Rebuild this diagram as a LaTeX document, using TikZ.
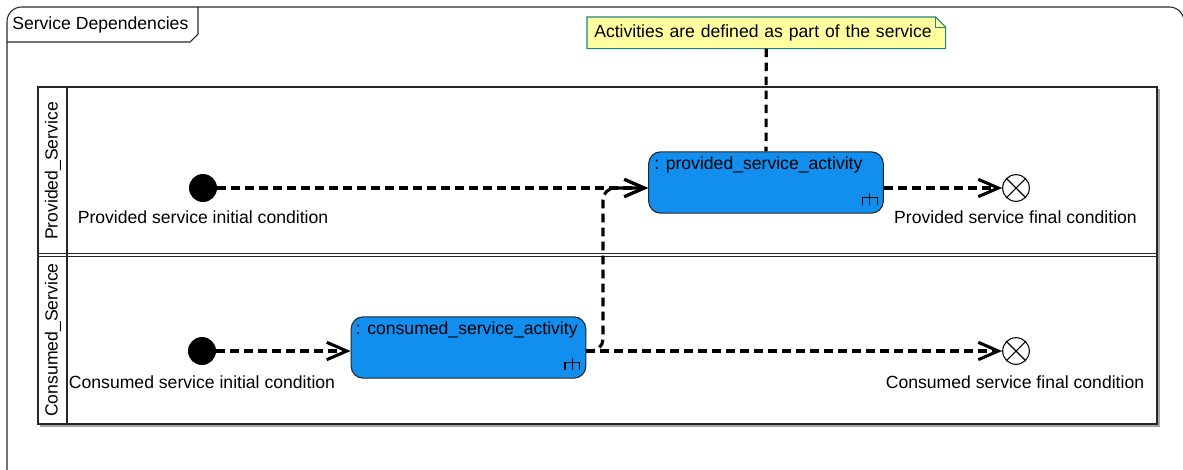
\documentclass[tikz,border=0pt]{standalone}
\usepackage{fontspec}
\setmainfont{Liberation Sans}
\usetikzlibrary{arrows.meta,calc}
\pgfdeclarelayer{background}
\pgfsetlayers{background,main}
\definecolor{actblue}{RGB}{17,142,238}
\definecolor{noteyellow}{RGB}{255,255,160}
\definecolor{noteborder}{RGB}{30,130,130}
\newcommand\forkicon[1]{%
  \draw[line width=0.9pt] ($(#1.south east)+(-10.5pt,6.75pt)$) -- ++(0,8.5pt);
  \draw[line width=0.9pt] ($(#1.south east)+(-16pt,6.75pt)$) -- ++(0,5.25pt) -- ++(11pt,0) -- ++(0,-5.25pt);
}
\begin{document}
\begin{tikzpicture}[x=0.75pt,y=-0.75pt,
  every node/.style={font=\fontsize{13.2}{15}\selectfont, inner sep=0pt},
  frameline/.style={draw=black!85, line width=0.8pt},
  initnode/.style={circle, fill=black, minimum size=21pt},
  finnode/.style={circle, draw=black, line width=0.8pt, minimum size=20pt, fill=white},
  actnode/.style={rectangle, rounded corners=9pt, draw=black!85, line width=0.8pt, fill=actblue, minimum width=176pt, minimum height=46pt},
  flow/.style={line width=2.3pt, dash pattern=on 6.5pt off 4pt, -{Straight Barb[length=15pt,width=13pt,line width=2.3pt]}},
  notelink/.style={line width=2.3pt, dash pattern=on 6.5pt off 4pt},
  lbl/.style={text=black},
]
\useasboundingbox (0,0) rectangle (1183,469);
\clip (0,0) rectangle (1183,469);

% outer frame
\draw[frameline, rounded corners=11pt] (7,475) -- (7,7) -- (1184,7) -- (1184,475);
\draw[frameline] (7,42) -- (190,42) -- (198,34) -- (198,7);
\node[anchor=west] (title) at (12,25) {Service Dependencies};

% swimlane table
\draw[black!35, line width=1pt] (1159,89) -- (1159,426) -- (40,426);
\draw[frameline] (38,87) rectangle (1157,424);
\draw[frameline] (67,87) -- (67,424);
\draw[frameline] (38,253.5) -- (1157,253.5);
\draw[frameline] (38,256.5) -- (1157,256.5);
\node[rotate=90] (lane1) at (53,171) {Provided\_Service};
\node[rotate=90] (lane2) at (53,340) {Consumed\_Service};

% note
\node[anchor=north west, minimum height=23.25pt, text width=258pt, inner xsep=5.25pt, align=left] (note) at (587,17) {Activities are defined as part of the service};
\begin{pgfonlayer}{background}
\draw[noteborder, fill=noteyellow, line width=0.8pt]
  (note.north west) -- ($(note.north east)+(-7.5pt,0)$) -- ($(note.north east)+(0,-7.5pt)$) -- (note.south east) -- (note.south west) -- cycle;
\draw[noteborder, line width=0.6pt] ($(note.north east)+(-7.5pt,0)$) -- ($(note.north east)+(-7.5pt,-7.5pt)$) -- ($(note.north east)+(0,-7.5pt)$);
\end{pgfonlayer}

% nodes
\node[initnode] (pinit) at (203,188) {};
\node[lbl] (pinitlbl) at (203,217) {Provided service initial condition};
\node[initnode] (cinit) at (202,351) {};
\node[lbl] (cinitlbl) at (202,382) {Consumed service initial condition};

\node[actnode, label={[anchor=north west, xshift=4.5pt, yshift=-4pt]north west:{: provided\_service\_activity}}] (pact) at (766,182.5) {};
\node[actnode, label={[anchor=north west, xshift=3.75pt, yshift=-4pt]north west:{: consumed\_service\_activity}}] (cact) at (468.5,347.5) {};
\forkicon{pact}
\forkicon{cact}

\node[finnode] (pfin) at (1016,188) {};
\draw[line width=0.8pt] (pfin.north east) -- (pfin.south west) (pfin.north west) -- (pfin.south east);
\node[lbl] (pfinlbl) at (1015.5,217) {Provided service final condition};
\node[finnode] (cfin) at (1016,351) {};
\draw[line width=0.8pt] (cfin.north east) -- (cfin.south west) (cfin.north west) -- (cfin.south east);
\node[lbl] (cfinlbl) at (1015,382) {Consumed service final condition};

% connectors
\coordinate (bend1) at (603,351);
\coordinate (bend2) at (603,188);
\draw[notelink] (note.south) -- (pact.north);
\draw[flow] (pinit) -- (pact.west |- pinit);
\draw[flow] (pact.east |- pinit) -- (pfin);
\draw[flow] (cinit) -- (cact.west |- cinit);
\draw[flow] (cact.east |- cinit) -- (cfin);
\draw[flow, rounded corners=9pt] (cact.east |- cinit) -- (bend1) -- (bend2) -- (pact.west |- pinit);
\end{tikzpicture}
\end{document}
